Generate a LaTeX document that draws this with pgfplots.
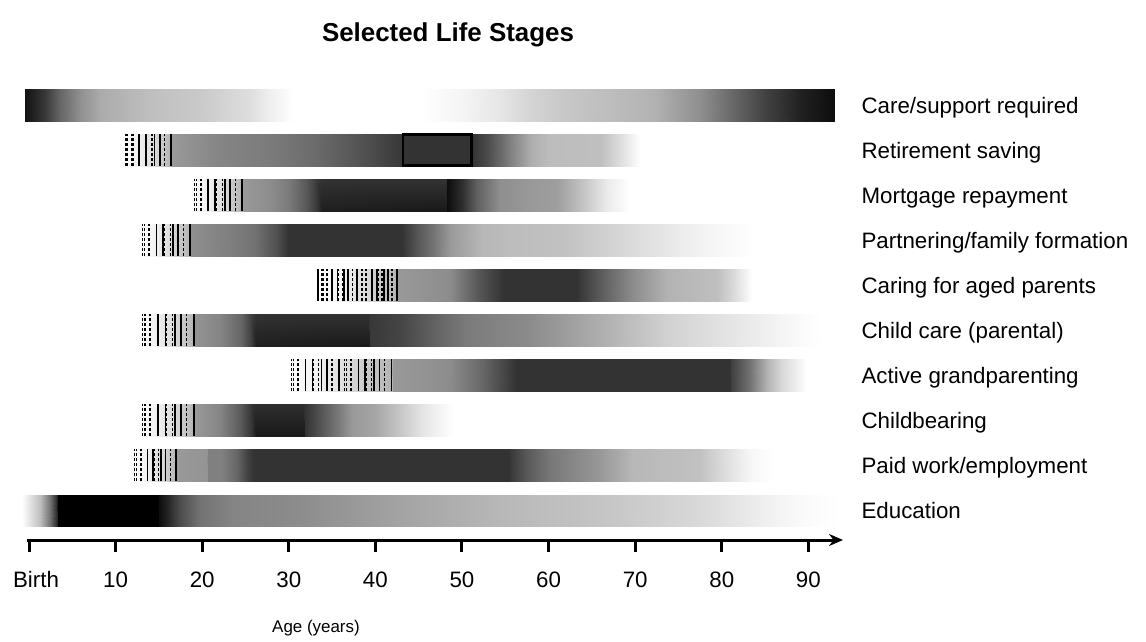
\documentclass[border=0pt]{standalone}
\usepackage{fontspec}
\setmainfont{Liberation Sans}
\usepackage{pgfplots}
\pgfplotsset{compat=1.18}
\usetikzlibrary{arrows.meta}
\pgfplotsset{
  gb/.style={surf, shader=interp, empty line=scanline, point meta=explicit, forget plot},
  hs/.style={quiver={u=0, v=0.71}, mark=none, forget plot, draw=black, line width=0.8bp, solid},
  hd/.style={quiver={u=0, v=0.71}, mark=none, forget plot, draw=black, line width=0.6bp, dash pattern=on 1.5bp off 1bp},
}
\newcommand{\lab}{\fontsize{11.2}{13}\selectfont}
\tikzset{rl/.style={anchor=base west, inner sep=0pt, font=\lab, yshift=-4bp}}
\begin{document}
\begin{tikzpicture}
\begin{axis}[
  scale only axis, width=407.85bp, height=226.5bp,
  xmin=-0.2, xmax=94, ymin=0.345, ymax=10.4,
  axis x line=bottom, axis y line=none,
  x axis line style={line width=1.5bp, -{Stealth[length=7bp,width=6bp]}},
  xtick={0,10,20,30,40,50,60,70,80,90},
  xticklabels={\hspace*{7bp}Birth,10,20,30,40,50,60,70,80,90},
  typeset ticklabels with strut,
  tick align=outside, major tick length=6bp,
  xtick style={line width=1.5bp, black},
  xticklabel style={font=\lab},
  xticklabel shift=5bp,
  minor xtick={},
  clip=false,
  colormap={bw}{gray(0cm)=(0); gray(1cm)=(1)},
  point meta min=0, point meta max=1,
]
% Row 10: Care/support required
\addplot[gb] table[meta=c] {
x y c
-0.5 9.645 0.07
1.8 9.645 0.22
3.6 9.645 0.4
6 9.645 0.57
8.2 9.645 0.67
14 9.645 0.75
19.7 9.645 0.79
25.5 9.645 0.87
28 9.645 0.94
30.5 9.645 1.0

-0.5 10.355 0.07
1.8 10.355 0.22
3.6 10.355 0.4
6 10.355 0.57
8.2 10.355 0.67
14 10.355 0.75
19.7 10.355 0.79
25.5 10.355 0.87
28 10.355 0.94
30.5 10.355 1.0
};
\addplot[gb] table[meta=c] {
x y c
45.2 9.645 1.0
50 9.645 0.96
54.5 9.645 0.9
58 9.645 0.83
62 9.645 0.78
66 9.645 0.75
72 9.645 0.7
77.5 9.645 0.56
81 9.645 0.42
85 9.645 0.26
89 9.645 0.13
93 9.645 0.05

45.2 10.355 1.0
50 10.355 0.96
54.5 10.355 0.9
58 10.355 0.83
62 10.355 0.78
66 10.355 0.75
72 10.355 0.7
77.5 10.355 0.56
81 10.355 0.42
85 10.355 0.26
89 10.355 0.13
93 10.355 0.05
};
% Row 9: Retirement saving
\addplot[gb] table[meta=c] {
x y c
10.7 8.645 1.0
12.5 8.645 0.95
14.5 8.645 0.85
16.4 8.645 0.7
16.5 8.645 0.6
22 8.645 0.52
28 8.645 0.48
33 8.645 0.42
38 8.645 0.33
43.1 8.645 0.22
51.2 8.645 0.2
53 8.645 0.3
55.5 8.645 0.5
58 8.645 0.68
60 8.645 0.74
66 8.645 0.75
68.5 8.645 0.88
70.6 8.645 1.0

10.7 9.355 1.0
12.5 9.355 0.95
14.5 9.355 0.85
16.4 9.355 0.7
16.5 9.355 0.6
22 9.355 0.52
28 9.355 0.48
33 9.355 0.42
38 9.355 0.33
43.1 9.355 0.22
51.2 9.355 0.2
53 9.355 0.3
55.5 9.355 0.5
58 9.355 0.68
60 9.355 0.74
66 9.355 0.75
68.5 9.355 0.88
70.6 9.355 1.0
};
\addplot[fill=black!80, draw=black, line width=1.3bp, line cap=rect, forget plot] coordinates {
(43.2,8.66) (51.1,8.66) (51.1,9.34) (43.2,9.34) (43.2,8.66)};
% Row 8: Mortgage repayment
\addplot[gb] table[meta=c] {
x y c
18.6 7.645 1.0
20.5 7.645 0.95
22.5 7.645 0.85
24.6 7.645 0.7
24.7 7.645 0.6
28 7.645 0.55
30 7.645 0.48
32 7.645 0.35
33.2 7.645 0.22
33.8 7.645 0.12
48.2 7.645 0.1
48.3 7.645 0.05
50 7.645 0.18
51.7 7.645 0.38
54.4 7.645 0.56
58 7.645 0.6
61 7.645 0.62
63.6 7.645 0.75
66.7 7.645 0.92
69.4 7.645 1.0

18.6 8.355 1.0
20.5 8.355 0.95
22.5 8.355 0.85
24.6 8.355 0.7
24.7 8.355 0.6
28 8.355 0.55
30 8.355 0.48
32 8.355 0.35
33.2 8.355 0.22
33.8 8.355 0.2
48.2 8.355 0.2
48.3 8.355 0.05
50 8.355 0.18
51.7 8.355 0.38
54.4 8.355 0.56
58 8.355 0.6
61 8.355 0.62
63.6 8.355 0.75
66.7 8.355 0.92
69.4 8.355 1.0
};
% Row 7: Partnering/family formation
\addplot[gb] table[meta=c] {
x y c
12.6 6.645 1.0
14.5 6.645 0.95
16.5 6.645 0.85
18.6 6.645 0.7
18.7 6.645 0.56
23 6.645 0.5
26 6.645 0.45
28.5 6.645 0.32
29.9 6.645 0.2
43.1 6.645 0.2
43.3 6.645 0.22
45 6.645 0.35
46.6 6.645 0.45
48.6 6.645 0.6
52.4 6.645 0.72
56 6.645 0.74
62 6.645 0.76
69.7 6.645 0.86
77.5 6.645 0.95
83.8 6.645 1.0

12.6 7.355 1.0
14.5 7.355 0.95
16.5 7.355 0.85
18.6 7.355 0.7
18.7 7.355 0.56
23 7.355 0.5
26 7.355 0.45
28.5 7.355 0.32
29.9 7.355 0.2
43.1 7.355 0.2
43.3 7.355 0.22
45 7.355 0.35
46.6 7.355 0.45
48.6 7.355 0.6
52.4 7.355 0.72
56 7.355 0.74
62 7.355 0.76
69.7 7.355 0.86
77.5 7.355 0.95
83.8 7.355 1.0
};
% Row 6: Caring for aged parents
\addplot[gb] table[meta=c] {
x y c
33.4 5.645 1.0
36 5.645 0.95
39 5.645 0.85
42.5 5.645 0.7
42.6 5.645 0.6
45 5.645 0.58
48.6 5.645 0.55
51.7 5.645 0.35
54.4 5.645 0.22
54.7 5.645 0.2
63.4 5.645 0.2
63.5 5.645 0.22
66.7 5.645 0.4
69.7 5.645 0.55
73.7 5.645 0.7
79.4 5.645 0.75
81.3 5.645 0.85
83.5 5.645 1.0

33.4 6.355 1.0
36 6.355 0.95
39 6.355 0.85
42.5 6.355 0.7
42.6 6.355 0.6
45 6.355 0.58
48.6 6.355 0.55
51.7 6.355 0.35
54.4 6.355 0.22
54.7 6.355 0.2
63.4 6.355 0.2
63.5 6.355 0.22
66.7 6.355 0.4
69.7 6.355 0.55
73.7 6.355 0.7
79.4 6.355 0.75
81.3 6.355 0.85
83.5 6.355 1.0
};
% Row 5: Child care (parental)
\addplot[gb] table[meta=c] {
x y c
12.6 4.645 1.0
14.5 4.645 0.95
16.8 4.645 0.85
19.1 4.645 0.7
19.2 4.645 0.58
22 4.645 0.52
24.5 4.645 0.4
25.6 4.645 0.25
26.2 4.645 0.12
39.3 4.645 0.1
39.4 4.645 0.22
42.8 4.645 0.27
46.6 4.645 0.38
50.5 4.645 0.48
58 4.645 0.55
64 4.645 0.65
69.7 4.645 0.75
73.7 4.645 0.82
81.3 4.645 0.9
89 4.645 0.98
91.6 4.645 1.0

12.6 5.355 1.0
14.5 5.355 0.95
16.8 5.355 0.85
19.1 5.355 0.7
19.2 5.355 0.58
22 5.355 0.52
24.5 5.355 0.4
25.6 5.355 0.25
26.2 5.355 0.2
39.3 5.355 0.2
39.4 5.355 0.22
42.8 5.355 0.27
46.6 5.355 0.38
50.5 5.355 0.48
58 5.355 0.55
64 5.355 0.65
69.7 5.355 0.75
73.7 5.355 0.82
81.3 5.355 0.9
89 5.355 0.98
91.6 5.355 1.0
};
% Row 4: Active grandparenting
\addplot[gb] table[meta=c] {
x y c
29.8 3.645 1.0
33 3.645 0.95
37 3.645 0.85
41.9 3.645 0.7
42 3.645 0.6
45 3.645 0.58
48.6 3.645 0.55
52.4 3.645 0.4
55.9 3.645 0.22
56.4 3.645 0.2
81 3.645 0.2
81.1 3.645 0.25
83.3 3.645 0.45
85.2 3.645 0.7
87 3.645 0.85
89.8 3.645 1.0

29.8 4.355 1.0
33 4.355 0.95
37 4.355 0.85
41.9 4.355 0.7
42 4.355 0.6
45 4.355 0.58
48.6 4.355 0.55
52.4 4.355 0.4
55.9 4.355 0.22
56.4 4.355 0.2
81 4.355 0.2
81.1 4.355 0.25
83.3 4.355 0.45
85.2 4.355 0.7
87 4.355 0.85
89.8 4.355 1.0
};
% Row 3: Childbearing
\addplot[gb] table[meta=c] {
x y c
12.6 2.645 1.0
14.5 2.645 0.95
16.8 2.645 0.85
19.1 2.645 0.7
19.2 2.645 0.6
22 2.645 0.52
24.5 2.645 0.35
25.7 2.645 0.2
26.2 2.645 0.1
31.8 2.645 0.1
31.9 2.645 0.2
34 2.645 0.35
36 2.645 0.5
37.3 2.645 0.6
40 2.645 0.65
42.8 2.645 0.78
45.5 2.645 0.9
49 2.645 1.0

12.6 3.355 1.0
14.5 3.355 0.95
16.8 3.355 0.85
19.1 3.355 0.7
19.2 3.355 0.6
22 3.355 0.52
24.5 3.355 0.35
25.7 3.355 0.2
26.2 3.355 0.18
31.8 3.355 0.18
31.9 3.355 0.2
34 3.355 0.35
36 3.355 0.5
37.3 3.355 0.6
40 3.355 0.65
42.8 3.355 0.78
45.5 3.355 0.9
49 3.355 1.0
};
% Row 2: Paid work/employment
\addplot[gb] table[meta=c] {
x y c
11.8 1.645 1.0
13.5 1.645 0.95
15.3 1.645 0.85
17 1.645 0.7
17.1 1.645 0.6
20.6 1.645 0.58
20.7 1.645 0.5
22.3 1.645 0.5
24 1.645 0.4
25.3 1.645 0.25
26 1.645 0.2
55.5 1.645 0.2
55.6 1.645 0.22
57.5 1.645 0.35
60.2 1.645 0.47
66 1.645 0.6
69.7 1.645 0.72
77.5 1.645 0.76
81.3 1.645 0.9
83.5 1.645 0.97
86 1.645 1.0

11.8 2.355 1.0
13.5 2.355 0.95
15.3 2.355 0.85
17 2.355 0.7
17.1 2.355 0.6
20.6 2.355 0.58
20.7 2.355 0.5
22.3 2.355 0.5
24 2.355 0.4
25.3 2.355 0.25
26 2.355 0.2
55.5 2.355 0.2
55.6 2.355 0.22
57.5 2.355 0.35
60.2 2.355 0.47
66 2.355 0.6
69.7 2.355 0.72
77.5 2.355 0.76
81.3 2.355 0.9
83.5 2.355 0.97
86 2.355 1.0
};
% Row 1: Education
\addplot[gb] table[meta=c] {
x y c
-0.8 0.645 1.0
1.3 0.645 0.75
2.4 0.645 0.45
3.2 0.645 0.15
3.35 0.645 0.0
14.9 0.645 0.0
15.0 0.645 0.05
16 0.645 0.15
17.4 0.645 0.3
19.7 0.645 0.45
23.6 0.645 0.52
31.3 0.645 0.55
42.8 0.645 0.64
54.4 0.645 0.72
66 0.645 0.77
77.5 0.645 0.85
85.2 0.645 0.94
89 0.645 0.98
93.6 0.645 1.0

-0.8 1.355 1.0
1.3 1.355 0.75
2.4 1.355 0.45
3.2 1.355 0.15
3.35 1.355 0.0
14.9 1.355 0.0
15.0 1.355 0.05
16 1.355 0.15
17.4 1.355 0.3
19.7 1.355 0.45
23.6 1.355 0.52
31.3 1.355 0.55
42.8 1.355 0.64
54.4 1.355 0.72
66 1.355 0.77
77.5 1.355 0.85
85.2 1.355 0.94
89 1.355 0.98
93.6 1.355 1.0
};
% Hatching: solid strokes (x, bottom of bar)
\addplot[hs] coordinates {(12.7,8.645) (13.5,8.645) (14.5,8.645) (15.1,8.645) (16.4,8.645)
 (20.7,7.645) (21.5,7.645) (22.6,7.645) (23.2,7.645) (24.6,7.645)
 (14.7,6.645) (15.5,6.645) (16.6,6.645) (17.2,6.645) (18.6,6.645)
 (33.4,5.645) (35.01,5.645) (35.61,5.645) (36.39,5.645) (36.85,5.645) (37.9,5.645) (39.61,5.645) (40.21,5.645) (40.99,5.645) (41.45,5.645) (42.5,5.645)
 (14.91,4.645) (15.77,4.645) (16.89,4.645) (17.55,4.645) (19.07,4.645)
 (31.94,3.645) (32.73,3.645) (33.77,3.645) (34.38,3.645) (35.78,3.645) (38.04,3.645) (38.83,3.645) (39.87,3.645) (40.48,3.645) (41.88,3.645)
 (14.91,2.645) (15.77,2.645) (16.89,2.645) (17.55,2.645) (19.07,2.645)
 (13.66,1.645) (14.34,1.645) (15.25,1.645) (15.78,1.645) (17.0,1.645)};
% Hatching: dashed strokes
\addplot[hd] coordinates {(11.2,8.645) (11.4,8.645) (11.9,8.645) (12.0,8.645) (13.6,8.645) (14.2,8.645) (15.6,8.645)
 (19.1,7.645) (19.3,7.645) (19.8,7.645) (19.9,7.645) (21.65,7.645) (22.3,7.645) (23.8,7.645)
 (13.1,6.645) (13.3,6.645) (13.8,6.645) (13.9,6.645) (15.65,6.645) (16.3,6.645) (17.8,6.645)
 (33.77,5.645) (33.95,5.645) (34.32,5.645) (34.41,5.645) (35.7,5.645) (36.16,5.645) (37.31,5.645) (38.37,5.645) (38.55,5.645) (38.92,5.645) (39.01,5.645) (40.3,5.645) (40.76,5.645) (41.91,5.645)
 (13.13,4.645) (13.39,4.645) (13.92,4.645) (14.05,4.645) (15.9,4.645) (16.56,4.645) (18.21,4.645)
 (30.29,3.645) (30.53,3.645) (31.02,3.645) (31.14,3.645) (32.85,3.645) (33.46,3.645) (34.99,3.645) (36.39,3.645) (36.63,3.645) (37.12,3.645) (37.24,3.645) (38.95,3.645) (39.56,3.645) (41.09,3.645)
 (13.13,2.645) (13.39,2.645) (13.92,2.645) (14.05,2.645) (15.9,2.645) (16.56,2.645) (18.21,2.645)
 (12.22,1.645) (12.44,1.645) (12.86,1.645) (12.97,1.645) (14.45,1.645) (14.98,1.645) (16.3,1.645)};
% Row labels
\node[rl] at (axis cs:96.1,10) {Care/support required};
\node[rl] at (axis cs:96.1,9) {Retirement saving};
\node[rl] at (axis cs:96.1,8) {Mortgage repayment};
\node[rl] at (axis cs:96.1,7) {Partnering/family formation};
\node[rl] at (axis cs:96.1,6) {Caring for aged parents};
\node[rl] at (axis cs:96.1,5) {Child care (parental)};
\node[rl] at (axis cs:96.1,4) {Active grandparenting};
\node[rl] at (axis cs:96.1,3) {Childbearing};
\node[rl] at (axis cs:96.1,2) {Paid work/employment};
\node[rl] at (axis cs:96.1,1) {Education};
\end{axis}
\node[font=\fontsize{13}{15}\selectfont\bfseries] at (210.35bp,252.5bp) {Selected Life Stages};
\node[font=\fontsize{8.5}{10}\selectfont] at (144.35bp,-44bp) {Age (years)};
\pgfresetboundingbox
\path[use as bounding box] (-13.65bp,-51bp) rectangle (559.35bp,270bp);
\end{tikzpicture}
\end{document}
